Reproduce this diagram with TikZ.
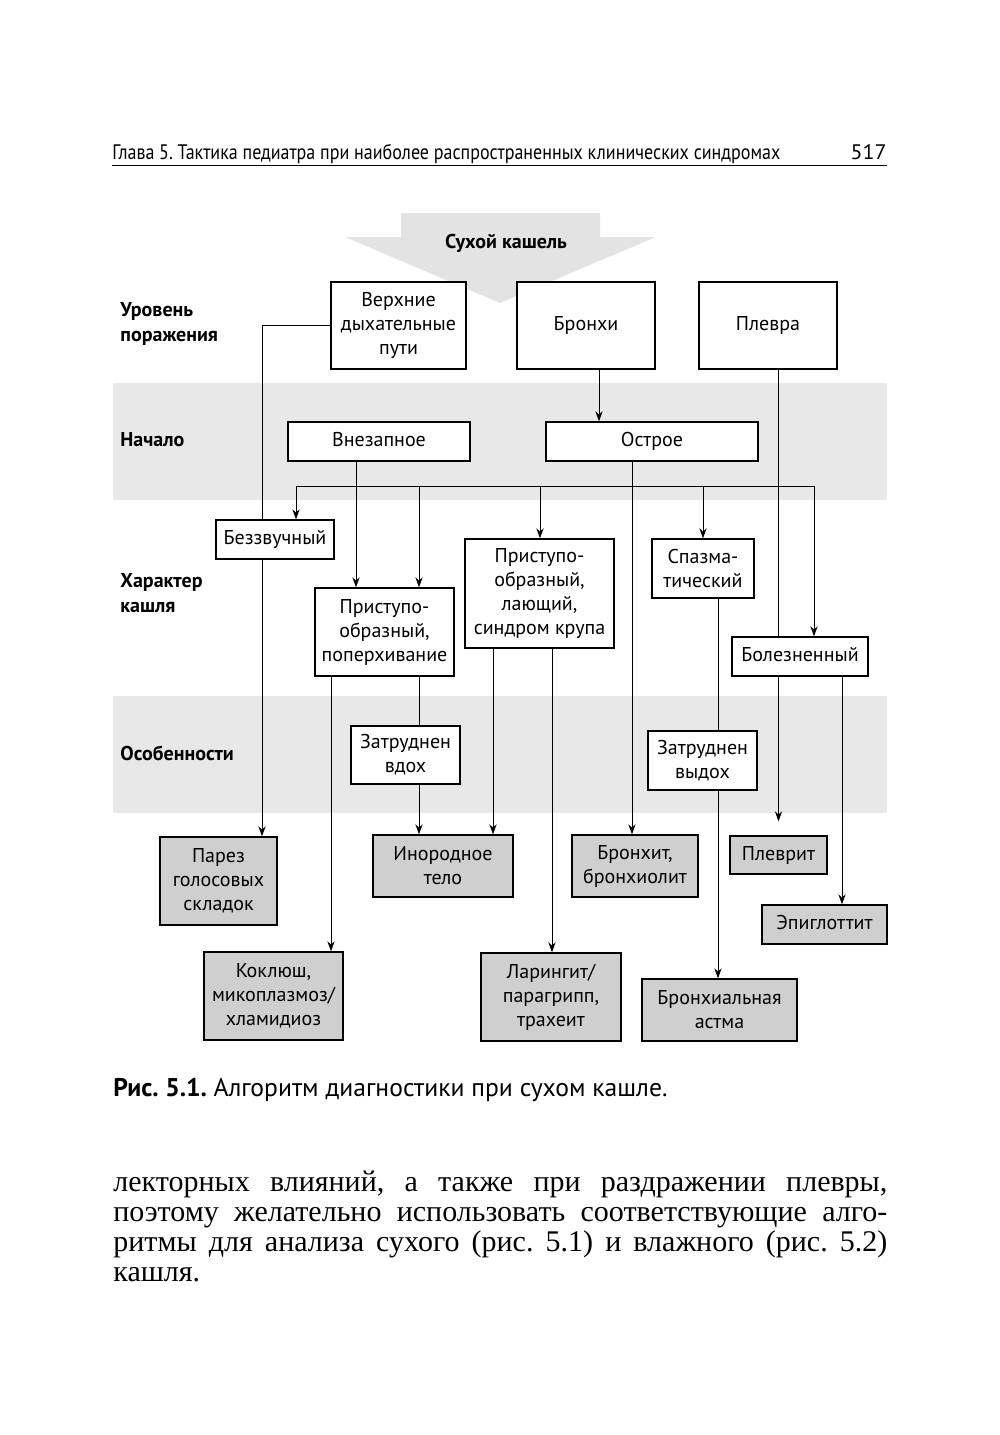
\documentclass[tikz,border=0pt]{standalone}
\usepackage{fontspec}
\usepackage{graphicx}
\setmainfont{Liberation Serif}
\newfontfamily\dsans{PT Sans}
\usetikzlibrary{arrows.meta}
\pgfdeclarelayer{bands}
\pgfdeclarelayer{lines}
\pgfsetlayers{bands,lines,main}
\frenchspacing
\newcommand\mkbox[7]{\node[#6, minimum width={(#4-#2)*0.5pt}, minimum height={(#5-#3)*0.5pt}] (#1) at ({(#2+#4)/2},{(#3+#5)/2}) {#7};}
\begin{document}
\begin{tikzpicture}[x=0.5pt,y=-0.5pt,
  wbox/.style={draw, line width=0.7pt, fill=white, align=center, inner sep=1pt, font=\dsans\fontsize{10}{12}\selectfont},
  gbox/.style={wbox, fill=gray!38},
  one/.style={text height=7.4pt, text depth=2.4pt},
  lbl/.style={anchor=west, align=left, inner sep=0pt, font=\dsans\bfseries\fontsize{10}{12.5}\selectfont},
  ln/.style={line width=0.5pt},
  arr/.style={ln, -{Stealth[length=5pt,width=3.6pt]}},
  band/.style={fill=gray!18, draw=none},
  body/.style={anchor=base west, inner sep=0pt, font=\fontsize{15}{15}\selectfont}
]
\useasboundingbox (0,0) rectangle (1000,1435);

% header
\node[anchor=base west, inner sep=0pt] (hdr) at (112,159) {\resizebox{334pt}{\height}{\dsans\fontsize{10.5}{12}\selectfont Глава 5. Тактика педиатра при наиболее распространенных клинических синдромах}};
\node[anchor=base east, inner sep=0pt] (pg) at (887,159) {\resizebox{18pt}{\height}{\dsans\fontsize{10.5}{12}\selectfont 517}};
\draw[line width=0.5pt] (hdr.base west |- 0,165) coordinate (rl) -- (887,165) coordinate (rr);

\begin{pgfonlayer}{bands}
\path[band] (113,383) rectangle (887,500);
\path[band] (113,696) rectangle (887,813);
\fill[gray!22] (401,213) -- (600,213) -- (600,237) -- (656,237) -- (500,303) -- (345,237) -- (401,237) -- cycle;
\end{pgfonlayer}
\node[inner sep=0pt, font=\dsans\bfseries\fontsize{10}{12}\selectfont] (title) at (506,243) {Сухой кашель};

% row labels
\node[lbl] (l1) at (120,324) {Уровень\\поражения};
\node[lbl] (l2) at (120,440) {Начало};
\node[lbl] (l3) at (120,593) {Характер\\кашля};
\node[lbl] (l4) at (120,753) {Особенности};

% boxes
\mkbox{verh}{331}{282}{466}{369}{wbox}{Верхние\\дыхательные\\пути}
\mkbox{bron}{517}{282}{655}{369}{wbox,one}{Бронхи}
\mkbox{plev}{699}{282}{837}{369}{wbox,one}{Плевра}
\mkbox{vnez}{288}{422}{470}{461}{wbox,one}{Внезапное}
\mkbox{ostr}{546}{422}{758}{461}{wbox,one}{Острое}
\mkbox{bezz}{216}{520}{334}{559}{wbox,one}{Беззвучный}
\mkbox{pp}{315}{588}{454}{676}{wbox}{Приступо-\\образный,\\поперхивание}
\mkbox{pl}{465}{539}{614}{648}{wbox}{Приступо-\\образный,\\лающий,\\синдром крупа}
\mkbox{spaz}{652}{539}{754}{598}{wbox}{Спазма-\\тический}
\mkbox{bolez}{732}{637}{868}{676}{wbox,one}{Болезненный}
\mkbox{zvd}{351}{726}{460}{784}{wbox}{Затруднен\\вдох}
\mkbox{zvy}{648}{731}{757}{790}{wbox}{Затруднен\\выдох}
\mkbox{parez}{160}{837}{277}{925}{gbox}{Парез\\голосовых\\складок}
\mkbox{inor}{373}{835}{513}{897}{gbox}{Инородное\\тело}
\mkbox{bronhit}{572}{835}{698}{897}{gbox}{Бронхит,\\бронхиолит}
\mkbox{plevrit}{730}{836}{827}{874}{gbox,one}{Плеврит}
\mkbox{epi}{762}{905}{887}{944}{gbox,one}{Эпиглоттит}
\mkbox{kokl}{204}{952}{343}{1040}{gbox}{Коклюш,\\микоплазмоз/\\хламидиоз}
\mkbox{lar}{481}{953}{621}{1041}{gbox}{Ларингит/\\парагрипп,\\трахеит}
\mkbox{asth}{642}{979}{797}{1041}{gbox}{Бронхиальная\\астма}

% x positions of connectors
\coordinate (xA) at (262,0);
\coordinate (xB) at (599,0);
\coordinate (xC) at (356,0);
\coordinate (xD) at (632,0);
\coordinate (xE) at (331,0);
\coordinate (xF) at (419,0);
\coordinate (xG) at (493,0);
\coordinate (xH) at (552,0);
\coordinate (xI) at (718,0);
\coordinate (xJ) at (842,0);
\coordinate (busL) at (296,486);
\coordinate (busB) at (419,486);
\coordinate (busC) at (540,486);
\coordinate (busD) at (703,486);
\coordinate (busR) at (814,486);

\begin{pgfonlayer}{lines}
\draw[arr] (verh.west) -| (parez.north -| xA);
\draw[arr] (bron.south -| xB) -- (ostr.north -| xB);
\draw[arr, shorten >=7pt] (plev.south -| plevrit.north) -- (plevrit.north);
\draw[arr] (vnez.south -| xC) -- (pp.north -| xC);
\draw[arr] (ostr.south -| xD) -- (bronhit.north -| xD);
\draw[ln] (busL) -- (busR);
\draw[arr] (busL) -- (bezz.north -| busL);
\draw[arr] (busB) -- (pp.north -| busB);
\draw[arr] (busC) -- (pl.north -| busC);
\draw[arr] (busD) -- (spaz.north -| busD);
\draw[arr] (busR) -- (bolez.north -| busR);
\draw[arr] (pp.south -| xE) -- (kokl.north -| xE);
\draw[ln] (pp.south -| xF) -- (zvd.north -| xF);
\draw[arr] (zvd.south -| xF) -- (inor.north -| xF);
\draw[arr] (pl.south -| xG) -- (inor.north -| xG);
\draw[arr] (pl.south -| xH) -- (lar.north -| xH);
\draw[ln] (spaz.south -| xI) -- (zvy.north -| xI);
\draw[arr] (zvy.south -| xI) -- (asth.north -| xI);
\draw[arr] (bolez.south -| xJ) -- (epi.north -| xJ);
\end{pgfonlayer}

% caption
\node[anchor=base west, inner sep=0pt, font=\dsans\fontsize{12.8}{15}\selectfont] (cap) at (113,1096) {\textbf{Рис. 5.1.} Алгоритм диагностики при сухом кашле.};

% body text
\node[body] (t1) at (113,1191) {\makebox[387pt][s]{лекторных влияний, а также при раздражении плевры,}};
\node[body] (t2) at (113,1221) {\makebox[387pt][s]{поэтому желательно использовать соответствующие алго-}};
\node[body] (t3) at (113,1251) {\makebox[387pt][s]{ритмы для анализа сухого (рис. 5.1) и влажного (рис. 5.2)}};
\node[body] (t4) at (113,1281) {кашля.};
\end{tikzpicture}
\end{document}
